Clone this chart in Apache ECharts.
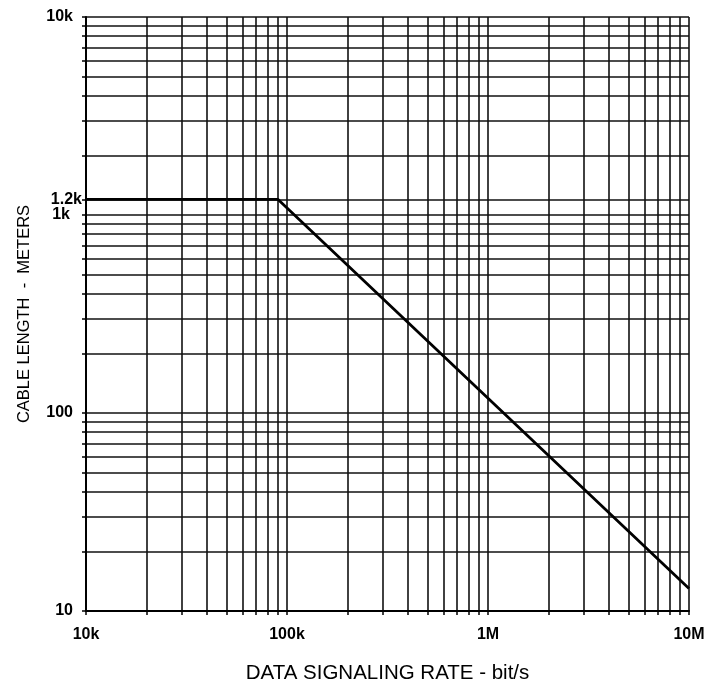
<!DOCTYPE html>
<html><head><meta charset="utf-8">
<script src="https://cdn.jsdelivr.net/npm/echarts@6/dist/echarts.min.js"></script>
<style>html,body{margin:0;padding:0;background:#fff}#c{width:708px;height:684px}</style>
</head><body><div id="c"></div>
<script>
var rates = [10000, 90000, 10000000];
var lengths = [1200, 1200, 13];
var xLabelValues = [10000, 100000, 1000000, 10000000];
var xLabelTexts = ['10k', '100k', '1M', '10M'];
var yLabelValues = [10, 100, 1000, 1200, 10000];
var yLabelTexts = ['10', '100', '1k', '1.2k', '10k'];

function decadeGrid(lo, hi) {
  var out = [];
  for (var d = lo; d < hi; d *= 10) {
    for (var m = 1; m <= 9; m++) out.push(d * m);
  }
  out.push(hi);
  return out;
}
var xGrid = decadeGrid(10000, 10000000);
var yGrid = decadeGrid(10, 10000);

function findIdx(values, v) {
  for (var i = 0; i < values.length; i++) {
    if (Math.abs(v - values[i]) / values[i] < 1e-6) return i;
  }
  return -1;
}

var FONT = 'Liberation Sans, Arial, sans-serif';
var chart = echarts.init(document.getElementById('c'));
var lab = { color: '#000', fontFamily: FONT, fontSize: 16, fontWeight: 'bold' };
chart.setOption({
  animation: false,
  backgroundColor: '#fff',
  grid: { left: 86, right: 19, top: 17, bottom: 73, outerBoundsMode: 'none', containLabel: false },
  xAxis: {
    type: 'log', logBase: 10, min: 10000, max: 10000000,
    name: 'DATA SIGNALING RATE - bit/s', nameLocation: 'middle', nameGap: 52,
    nameTextStyle: { color: '#000', fontFamily: FONT, fontSize: 20.5 },
    axisLine: { show: true, lineStyle: { color: '#000', width: 2 } },
    axisTick: { show: true, customValues: xGrid, length: 4, lineStyle: { color: '#000', width: 1.5 } },
    axisLabel: Object.assign({
      customValues: xLabelValues,
      formatter: function (v) { var i = findIdx(xLabelValues, v); return i < 0 ? '' : xLabelTexts[i]; },
      margin: 16
    }, lab),
    splitLine: { show: true, lineStyle: { color: '#111', width: 1.6 } },
    minorTick: { show: false }, minorSplitLine: { show: false }
  },
  yAxis: {
    type: 'log', logBase: 10, min: 10, max: 10000,
    name: 'CABLE LENGTH  -  METERS', nameLocation: 'middle', nameGap: 53, nameRotate: 90,
    nameTextStyle: { color: '#000', fontFamily: FONT, fontSize: 16.5 },
    axisLine: { show: true, lineStyle: { color: '#000', width: 2 } },
    axisTick: { show: true, customValues: yGrid.concat([1200]).sort(function (a, b) { return a - b; }), length: 4, lineStyle: { color: '#000', width: 1.5 } },
    axisLabel: Object.assign({
      customValues: yLabelValues,
      formatter: function (v) {
        var i = findIdx(yLabelValues, v);
        if (i < 0) return '';
        var t = yLabelTexts[i];
        if (t === '1.2k') return '{n|' + t + '}';
        if (t === '1k') return '{f|' + t + '}';
        return '{p|' + t + '}';
      },
      margin: 4,
      rich: {
        n: { fontFamily: FONT, fontSize: 16, fontWeight: 'bold', color: '#000' },
        p: { fontFamily: FONT, fontSize: 16, fontWeight: 'bold', color: '#000', padding: [0, 9, 0, 0] },
        f: { fontFamily: FONT, fontSize: 16, fontWeight: 'bold', color: '#000', padding: [0, 12, 0, 0] }
      }
    }, lab),
    splitLine: { show: true, lineStyle: { color: '#111', width: 1.6 } },
    minorTick: { show: false }, minorSplitLine: { show: false }
  },
  series: [{
    type: 'line',
    data: rates.map(function (r, i) { return [r, lengths[i]]; }),
    symbol: 'none',
    lineStyle: { color: '#000', width: 2.8 },
    z: 5
  }]
});
</script></body></html>
